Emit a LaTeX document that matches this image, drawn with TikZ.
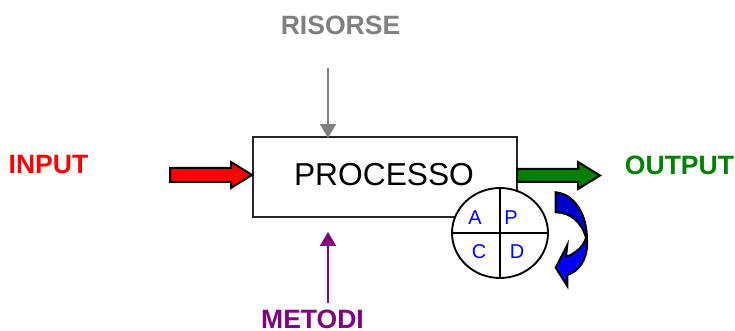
\documentclass[tikz,border=0pt]{standalone}
\usepackage{fontspec}
\setmainfont{Liberation Sans}
\usetikzlibrary{arrows.meta,shapes.geometric}
\definecolor{dkgreen}{RGB}{0,128,0}
\definecolor{purp}{RGB}{128,0,128}
\definecolor{grayc}{RGB}{128,128,128}
\definecolor{dkblue}{RGB}{0,0,204}
\tikzset{
 x=0.75pt,y=-0.75pt,
 label text/.style={font=\fontsize{19.9}{22}\selectfont\bfseries,inner sep=0pt},
 pdca/.style={font=\fontsize{15}{18}\selectfont,text={rgb,255:red,0;green,0;blue,255},inner sep=0pt},
 thin arrow/.style={line width=1.5pt,-{Triangle[length=10.5pt,width=12pt]},shorten >=0pt},
 block/.style={draw=black,line width=1.5pt,miter limit=10},
}
\begin{document}
\begin{tikzpicture}
\useasboundingbox (0,0) rectangle (735,331);
\node[draw=black!85,line width=0.9pt,minimum width=198pt,minimum height=60pt,inner sep=0pt,
      font=\fontsize{23.8}{28}\selectfont] (proc) at (385,177) {};
\node[inner sep=0pt,font=\fontsize{23.8}{28}\selectfont] (proclabel) at (384,175) {PROCESSO};
\node[label text,text=red] (input) at (48.5,165) {INPUT};
\node[label text,text=dkgreen] (output) at (679.5,165) {OUTPUT};
\node[label text,text=grayc] (risorse) at (340.5,25) {RISORSE};
\node[label text,text=purp] (metodi) at (312.5,319.5) {METODI};
% thin arrows
\coordinate (gs) at (328,68);
\coordinate (ge) at (328,138);
\coordinate (ms) at (328,303);
\coordinate (me) at (328,232);
\draw[thin arrow,draw=grayc,fill=grayc] (gs) -- (ge);
\draw[thin arrow,draw=purp,fill=purp] (ms) -- (me);
% block arrows
\draw[block,fill=red] (170,168) -- (231,168) -- (231,162) -- (252,175) -- (231,188) -- (231,182) -- (170,182) -- cycle;
\draw[block,fill=dkgreen] (517,169) -- (578,169) -- (578,162) -- (600,175.5) -- (578,189) -- (578,182) -- (517,182) -- cycle;
% PDCA circle
\node[draw=black,fill=white,line width=1.4pt,ellipse,minimum width=72pt,minimum height=67.5pt,inner sep=0pt] (circ) at (500,233) {};
\draw[line width=1.4pt] (circ.north) -- (circ.south);
\draw[line width=1.4pt] (circ.west) -- (circ.east);
\node[pdca] (a) at (475,218) {A};
\node[pdca] (p) at (511,218) {P};
\node[pdca] (c) at (479,252) {C};
\node[pdca] (d) at (517,252) {D};
% curved arrow
\draw[block,fill=blue,line join=miter]
  (587,245) .. controls (587,258) and (580,271) .. (567.3,275)
  -- (567.3,286) -- (555.7,267.7) -- (567.3,245) -- (566,256.7)
  .. controls (575,254) and (583,247) .. (586,238) -- cycle;
\draw[block,fill=dkblue,line join=miter]
  (555.7,192.3) .. controls (573,194) and (587,212) .. (587,240)
  -- (586,238) .. controls (582,222) and (570,212.3) .. (555.7,212.3) -- cycle;
\end{tikzpicture}
\end{document}
